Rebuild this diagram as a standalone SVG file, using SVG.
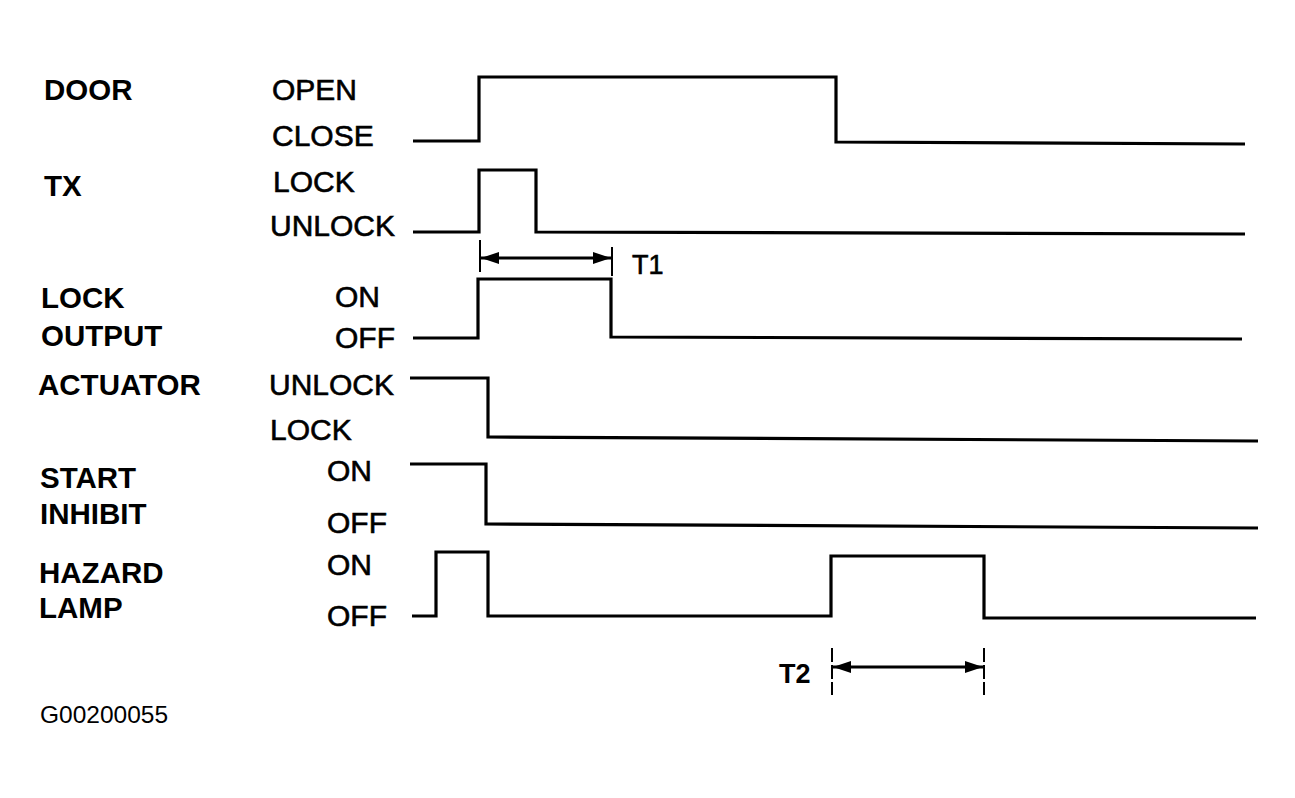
<svg xmlns="http://www.w3.org/2000/svg" width="1295" height="798" viewBox="0 0 1295 798">
<defs>
<style>
.lbl{font-family:"Liberation Sans",Arial,sans-serif;font-weight:bold;font-size:29.5px;fill:#000}
.st{font-family:"Liberation Sans",Arial,sans-serif;font-size:30px;fill:#000;stroke:#000;stroke-width:0.6}
.sig{fill:none;stroke:#000;stroke-width:3.2;stroke-linejoin:miter}
.dim{fill:none;stroke:#000;stroke-width:2.8}
.tick{fill:none;stroke:#000;stroke-width:2}
.dash{fill:none;stroke:#000;stroke-width:2;stroke-dasharray:14 3}
</style>
<marker id="ah" viewBox="0 0 18 12" refX="18" refY="6" markerWidth="18" markerHeight="12" markerUnits="userSpaceOnUse" orient="auto-start-reverse">
<path d="M0,0 L18,6 L0,12 Z" fill="#000"/>
</marker>
</defs>
<rect width="1295" height="798" fill="#fff"/>

<g id="door">
<text class="lbl" x="44" y="100">DOOR</text>
<text class="st" x="272" y="100">OPEN</text>
<text class="st" x="272" y="146">CLOSE</text>
</g>
<g id="tx">
<text class="lbl" x="44" y="196">TX</text>
<text class="st" x="273" y="192">LOCK</text>
<text class="st" x="270" y="236">UNLOCK</text>
</g>
<g id="lock-output">
<text class="lbl" x="41" y="308">LOCK</text>
<text class="lbl" x="41" y="346">OUTPUT</text>
<text class="st" x="335" y="307">ON</text>
<text class="st" x="335" y="348">OFF</text>
</g>
<g id="actuator">
<text class="lbl" x="38" y="395">ACTUATOR</text>
<text class="st" x="269" y="395">UNLOCK</text>
<text class="st" x="270" y="440">LOCK</text>
</g>
<g id="start-inhibit">
<text class="lbl" x="40" y="488">START</text>
<text class="lbl" x="40" y="524">INHIBIT</text>
<text class="st" x="327" y="481">ON</text>
<text class="st" x="327" y="533">OFF</text>
</g>
<g id="hazard-lamp">
<text class="lbl" x="39" y="583">HAZARD</text>
<text class="lbl" x="39" y="618">LAMP</text>
<text class="st" x="327" y="575">ON</text>
<text class="st" x="327" y="626">OFF</text>
</g>
<g id="t1-label"><text class="st" x="632" y="274" style="font-size:27px">T1</text></g>
<g id="t2-label"><text class="lbl" x="779" y="683" style="font-size:27px">T2</text></g>
<g id="code"><text x="40" y="723" style="font-family:'Liberation Sans',Arial,sans-serif;font-size:24.5px;fill:#000">G00200055</text></g>

<g id="connectors">
<polyline class="sig" points="413,141 479,141 479,77 836,77 836,142 1245,144"/>
<polyline class="sig" points="413,232 479,232 479,170 536,170 536,232 1245,234"/>
<polyline class="sig" points="413,338 478,338 478,279 611,279 611,337 1242,339"/>
<polyline class="sig" points="410,378 488,378 488,437 1258,441"/>
<polyline class="sig" points="410,464 486,464 486,524 1258,528"/>
<polyline class="sig" points="412,616 436,616 436,552 488,552 488,616 831,616 831,556 984,556 984,618 1256,618"/>
<line class="tick" x1="480" y1="240" x2="480" y2="272"/>
<line class="tick" x1="612" y1="247" x2="612" y2="276"/>
<line class="dim" x1="481" y1="258" x2="611" y2="258" marker-start="url(#ah)" marker-end="url(#ah)"/>
<line class="dash" x1="832" y1="648" x2="832" y2="695"/>
<line class="dash" x1="984" y1="648" x2="984" y2="695"/>
<line class="dim" x1="833" y1="667" x2="983" y2="667" marker-start="url(#ah)" marker-end="url(#ah)"/>
</g>
</svg>
